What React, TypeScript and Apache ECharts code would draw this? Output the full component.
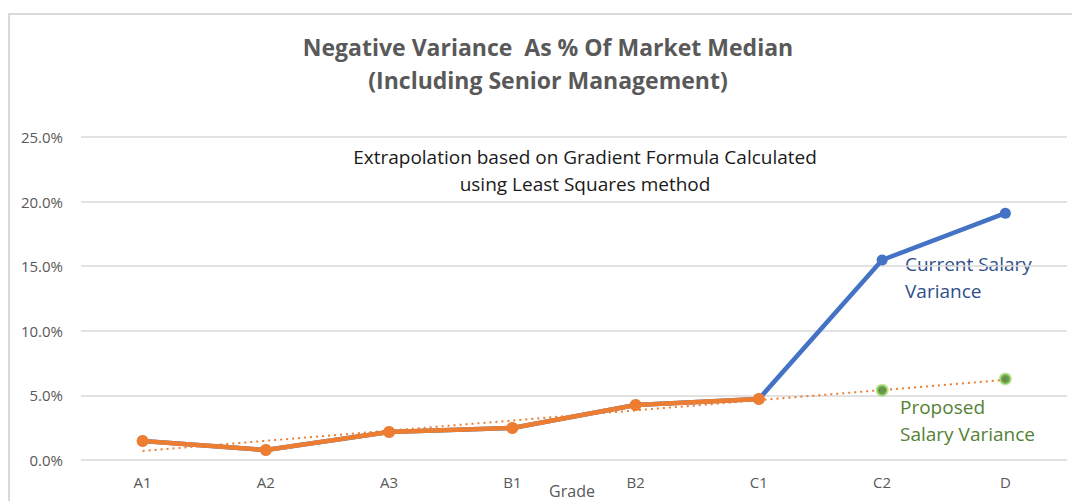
import React, { useEffect, useRef } from "react";
import * as echarts from "echarts";

const grades = ["A1", "A2", "A3", "B1", "B2", "C1", "C2", "D"];
const currentVariance = [1.47, 0.77, 2.17, 2.48, 4.26, 4.72, 15.48, 19.1];
const proposedVariance = [1.47, 0.77, 2.17, 2.48, 4.26, 4.72, null, null];
const proposedExtrapolated = [null, null, null, null, null, null, 5.4, 6.27];
const trendEnds = [0.7, null, null, null, null, null, null, 6.2];
const yTicks = { min: 0, max: 25, interval: 5 };

const FONT = "'Open Sans', 'Noto Sans', sans-serif";

export default function App() {
  const ref = useRef<HTMLDivElement>(null);
  useEffect(() => {
    if (!ref.current) return;
    const chart = echarts.init(ref.current, null, { renderer: "svg" });
    chart.setOption({
      animation: false,
      backgroundColor: "#ffffff",
      textStyle: { fontFamily: FONT },
      grid: {
        left: 81,
        right: 5,
        top: 137,
        bottom: 41,
        containLabel: false,
        outerBoundsMode: "none",
      },
      xAxis: {
        type: "category",
        data: grades,
        boundaryGap: true,
        axisLine: { show: false },
        axisTick: { show: false },
        axisLabel: { color: "#595959", fontSize: 15, margin: 14, fontFamily: FONT },
      },
      yAxis: {
        type: "value",
        min: yTicks.min,
        max: yTicks.max,
        interval: yTicks.interval,
        axisLine: { show: false },
        axisTick: { show: false },
        splitLine: { lineStyle: { color: "#d9d9d9", width: 1.5 } },
        axisLabel: {
          color: "#595959",
          fontSize: 15,
          margin: 18,
          fontFamily: FONT,
          formatter: (v: number) => v.toFixed(1) + "%",
        },
      },
      series: [
        {
          name: "Current Salary Variance",
          type: "line",
          data: currentVariance,
          symbol: "circle",
          symbolSize: 11,
          lineStyle: { color: "#4472C4", width: 4.5 },
          itemStyle: { color: "#4472C4" },
          z: 2,
        },
        {
          name: "Proposed Salary Variance",
          type: "line",
          data: proposedVariance,
          symbol: "circle",
          symbolSize: 12,
          lineStyle: { color: "#ED7D31", width: 4.5 },
          itemStyle: { color: "#ED7D31" },
          z: 3,
        },
        {
          name: "Linear trend",
          type: "line",
          data: trendEnds,
          connectNulls: true,
          symbol: "none",
          lineStyle: { color: "#ED7D31", width: 2, type: [2, 4] },
          z: 4,
        },
        {
          name: "Proposed extrapolated",
          type: "scatter",
          data: proposedExtrapolated,
          symbol: "circle",
          symbolSize: 10,
          itemStyle: {
            color: "#3f7a24",
            borderColor: "rgba(146,208,80,0.7)",
            borderWidth: 3,
          },
          z: 5,
        },
      ],
      graphic: [
        {
          type: "rect",
          shape: { x: 9, y: 14, width: 1080, height: 520 },
          style: { fill: "none", stroke: "#d9d9d9", lineWidth: 2 },
          silent: true,
        },
        {
          type: "text",
          x: 548,
          y: 47,
          style: {
            text: "Negative Variance  As % Of Market Median",
            fill: "#595959",
            font: `bold 23px ${FONT}`,
            align: "center",
            verticalAlign: "middle",
          },
        },
        {
          type: "text",
          x: 548,
          y: 80,
          style: {
            text: "(Including Senior Management)",
            fill: "#595959",
            font: `bold 23px ${FONT}`,
            align: "center",
            verticalAlign: "middle",
          },
        },
        {
          type: "text",
          x: 585,
          y: 157,
          style: {
            text: "Extrapolation based on Gradient Formula Calculated",
            fill: "#1a1a1a",
            font: `19px ${FONT}`,
            align: "center",
            verticalAlign: "middle",
          },
        },
        {
          type: "text",
          x: 585,
          y: 184,
          style: {
            text: "using Least Squares method",
            fill: "#1a1a1a",
            font: `19px ${FONT}`,
            align: "center",
            verticalAlign: "middle",
          },
        },
        {
          type: "text",
          x: 905,
          y: 250,
          style: {
            text: "Current Salary\nVariance",
            fill: "#2F4E8C",
            font: `19px ${FONT}`,
            lineHeight: 27,
            align: "left",
            verticalAlign: "top",
          },
        },
        {
          type: "text",
          x: 900,
          y: 393,
          style: {
            text: "Proposed\nSalary Variance",
            fill: "#548235",
            font: `19px ${FONT}`,
            lineHeight: 27,
            align: "left",
            verticalAlign: "top",
          },
        },
        {
          type: "text",
          x: 572,
          y: 491,
          style: {
            text: "Grade",
            fill: "#595959",
            font: `16px ${FONT}`,
            align: "center",
            verticalAlign: "middle",
          },
        },
      ],
    });
    return () => chart.dispose();
  }, []);
  return (
    <div
      ref={ref}
      style={{ position: "fixed", left: 0, top: 0, width: 1072, height: 501 }}
    />
  );
}
